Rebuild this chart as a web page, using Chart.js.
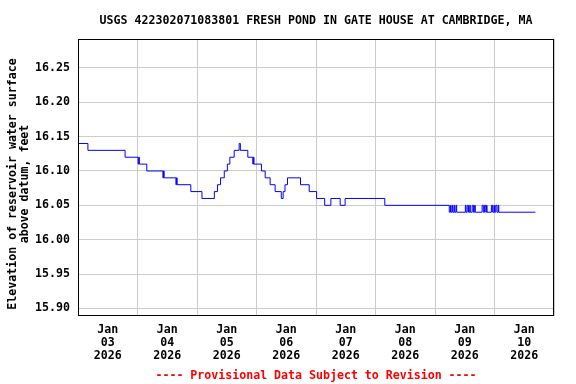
<!DOCTYPE html>
<html>
<head>
<meta charset="utf-8">
<script src="https://cdn.jsdelivr.net/npm/chart.js@4/dist/chart.umd.min.js"></script>
<style>
  body { margin: 0; background: #fff; }
  canvas { display: block; }
</style>
</head>
<body>
<canvas id="gageChart" width="576" height="384"></canvas>
<script>
// hours after Jan 03 2026 00:00 where the reading changes, and the new reading (feet)
const hours = [
  0, 4, 19, 24.25, 24.5, 24.75, 27.75, 34.25, 34.5, 34.75, 39.5, 39.75, 40,
  45.5, 50, 55, 56.25, 57.5, 59, 60.25, 61.25, 63, 65, 65.5, 68.5,
  70.5, 70.75, 71, 74, 75.5, 77.5, 79.5, 82, 82.75, 83.5, 84.5,
  89.75, 93.25, 96.25, 99.5, 102, 105.75, 107.75, 123.75,
  149.75, 150.25, 150.5, 151, 151.25, 151.75, 152, 152.5, 152.75,
  156.25, 156.5, 157, 157.5, 158, 158.25, 159, 159.5, 160, 160.25,
  163, 163.5, 164, 164.5, 164.75, 165,
  166.75, 167.25, 167.75, 168, 168.5, 169, 169.5, 169.75,
  184.5
];
const levels = [
  16.14, 16.13, 16.12, 16.11, 16.12, 16.11, 16.10, 16.09, 16.10, 16.09, 16.08, 16.09, 16.08,
  16.07, 16.06, 16.07, 16.08, 16.09, 16.10, 16.11, 16.12, 16.13, 16.14, 16.13, 16.12,
  16.11, 16.12, 16.11, 16.10, 16.09, 16.08, 16.07, 16.06, 16.07, 16.08, 16.09,
  16.08, 16.07, 16.06, 16.05, 16.06, 16.05, 16.06, 16.05,
  16.04, 16.05, 16.04, 16.05, 16.04, 16.05, 16.04, 16.05, 16.04,
  16.05, 16.04, 16.05, 16.04, 16.05, 16.04, 16.05, 16.04, 16.05, 16.04,
  16.05, 16.04, 16.05, 16.04, 16.05, 16.04,
  16.05, 16.04, 16.05, 16.04, 16.05, 16.04, 16.05, 16.04,
  16.04
];
const dayLabels = ['03', '04', '05', '06', '07', '08', '09', '10'];
const yTicks = [15.90, 15.95, 16.00, 16.05, 16.10, 16.15, 16.20, 16.25];

const titleText = 'USGS 422302071083801 FRESH POND IN GATE HOUSE AT CAMBRIDGE, MA';
const yTitle = ['Elevation of reservoir water surface', 'above datum, feet'];
const footerText = '---- Provisional Data Subject to Revision ----';

const FONT = "bold 11.6px 'DejaVu Sans Mono'";
Chart.defaults.font = { family: "'DejaVu Sans Mono', monospace", size: 11.6, weight: 'bold' };
Chart.defaults.color = '#000';

// title, footer, y title and the black frame
const usgsText = {
  id: 'usgsText',
  afterDraw(chart) {
    const c = chart.ctx;
    const a = chart.chartArea;
    const mid = (a.left + a.right) / 2;
    c.save();
    c.strokeStyle = '#000';
    c.lineWidth = 1;
    c.strokeRect(a.left + 0.5, a.top + 0.5, a.right - a.left - 1, a.bottom - a.top - 1);
    c.font = FONT;
    c.textAlign = 'center';
    c.textBaseline = 'alphabetic';
    c.fillStyle = '#000';
    c.fillText(titleText, mid, 24);
    c.fillStyle = '#ff0000';
    c.fillText(footerText, mid, 378.5);
    c.fillStyle = '#000';
    c.translate(16, 184);
    c.rotate(-Math.PI / 2);
    c.fillText(yTitle[0], 0, 0);
    c.fillText(yTitle[1], 0, 12.3);
    c.restore();
  }
};

const ctx = document.getElementById('gageChart').getContext('2d');
const gageChart = new Chart(ctx, {
  type: 'line',
  data: {
    datasets: [{
      data: hours.map((h, i) => ({ x: h, y: levels[i] })),
      borderColor: '#0000ff',
      borderWidth: 1,
      pointRadius: 0,
      stepped: true,
      fill: false
    }]
  },
  options: {
    responsive: false,
    animation: false,
    layout: { padding: { top: 39, bottom: 16, left: 0, right: 22 } },
    plugins: {
      legend: { display: false },
      tooltip: { enabled: false }
    },
    scales: {
      x: {
        type: 'linear',
        min: 0,
        max: 192,
        border: { display: false },
        grid: { color: '#cccccc', offset: true, drawTicks: false },
        ticks: {
          autoSkip: false,
          maxRotation: 0,
          padding: 8,
          font: { lineHeight: 1.1 },
          callback: (v, i) => ['Jan', dayLabels[i], '2026']
        },
        afterBuildTicks: (scale) => {
          scale.ticks = dayLabels.map((d, i) => ({ value: 12 + 24 * i }));
        },
        afterFit: (scale) => { scale.height = 52; }
      },
      y: {
        min: 15.889,
        max: 16.292,
        border: { display: false },
        grid: { color: '#cccccc', drawTicks: false },
        ticks: {
          padding: 8,
          callback: (v) => v.toFixed(2)
        },
        afterBuildTicks: (scale) => {
          scale.ticks = yTicks.map(v => ({ value: v }));
        },
        afterFit: (scale) => { scale.width = 78; }
      }
    }
  },
  plugins: [usgsText]
});
</script>
</body>
</html>
